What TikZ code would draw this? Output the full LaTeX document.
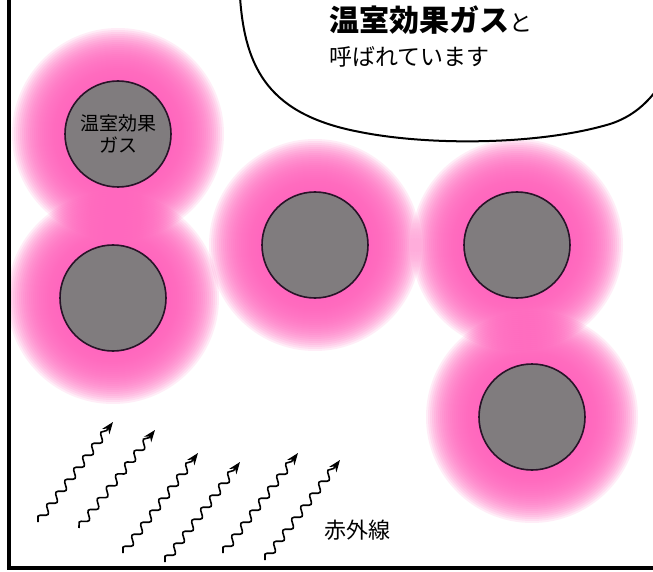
\documentclass[tikz,border=0pt]{standalone}
\usepackage{fontspec}
\newfontfamily\cjk{Noto Sans CJK JP}
\usetikzlibrary{decorations.pathmorphing,arrows.meta}
\definecolor{glowpink}{RGB}{255,100,190}
\definecolor{molgray}{RGB}{128,124,126}
\definecolor{moledge}{RGB}{40,20,40}
\tikzset{
  molecule/.style={circle, fill=molgray, draw=moledge, line width=1.6pt,
    minimum size=106pt, inner sep=0pt, align=center, font=\cjk\fontsize{19}{22}\selectfont},
  frameline/.style={line width=3.5pt, line cap=rect},
  bubble/.style={line width=2pt, line cap=round},
  ray/.style={line width=1.6pt,
    decorate, decoration={snake, amplitude=3.5pt, segment length=15pt, post length=9pt},
    -{Stealth[length=12pt,width=9pt]}},
  plain/.style={inner sep=0pt, anchor=west, font=\cjk}
}
\begin{document}
\begin{tikzpicture}[x=1pt,y=-1pt]
\useasboundingbox (0,0) rectangle (653,572);
\fill[white] (0,0) rectangle (653,572);

% molecule centres
\coordinate (c1) at (118,134);
\coordinate (c2) at (113,298);
\coordinate (c3) at (315,245);
\coordinate (c4) at (517,245);
\coordinate (c5) at (532,417);

% soft pink halos around the molecules
\foreach \c in {c1,c2,c3,c4,c5}{
  \foreach \r in {54,56,...,106}{
    \fill[glowpink, opacity=0.115] (\c) circle (\r);
  }
}

% molecules
\node[molecule] (m1) at (c1) {温室効果\\ガス};
\node[molecule] (m2) at (c2) {};
\node[molecule] (m3) at (c3) {};
\node[molecule] (m4) at (c4) {};
\node[molecule] (m5) at (c5) {};

% speech bubble
\draw[bubble] (240,-3) .. controls (245,70) and (270,115) .. (360,132)
  .. controls (430,146) and (540,145) .. (610,124)
  .. controls (632,117) and (648,103) .. (660,85);
\node[plain] (t1) at (329,20) {{\bfseries\fontsize{30}{32}\selectfont 温室効果ガス}{\fontsize{23}{25}\selectfont と}};
\node[plain] (t2) at (329,57) {\fontsize{23}{25}\selectfont 呼ばれています};

% infrared rays
\coordinate (a1t) at (38,522);  \coordinate (a1h) at (113,422);
\coordinate (a2t) at (79,528);  \coordinate (a2h) at (155,430);
\coordinate (a3t) at (123,553); \coordinate (a3h) at (198,453);
\coordinate (a4t) at (165,562); \coordinate (a4h) at (240,462);
\coordinate (a5t) at (223,553); \coordinate (a5h) at (298,453);
\coordinate (a6t) at (265,560); \coordinate (a6h) at (340,460);
\foreach \i in {1,...,6}{ \draw[ray] (a\i t) -- (a\i h); }
\node[plain, anchor=center] (ir) at (357,530) {\fontsize{22}{24}\selectfont 赤外線};

% frame
\coordinate (ftop) at (9,0);
\coordinate (fcorner) at (9,568);
\coordinate (fright) at (653,568);
\draw[frameline] (ftop) -- (fcorner) -- (fright);
\end{tikzpicture}
\end{document}
